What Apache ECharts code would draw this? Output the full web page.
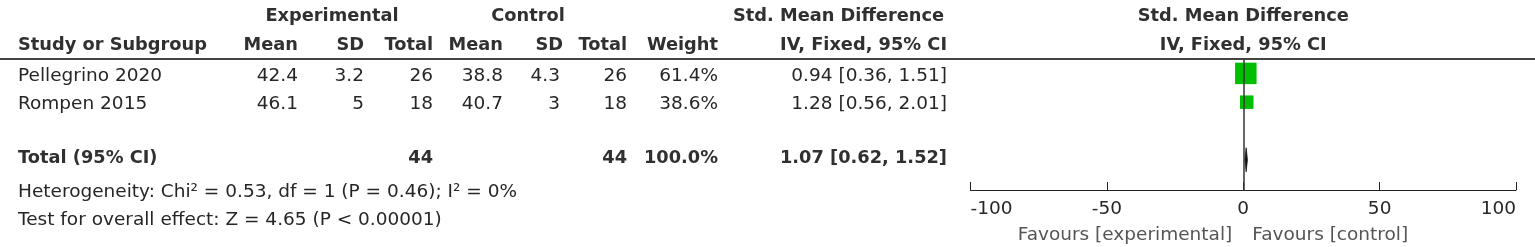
<!DOCTYPE html>
<html><head><meta charset="utf-8">
<script src="https://cdn.jsdelivr.net/npm/echarts@6/dist/echarts.min.js"></script>
<style>html,body{margin:0;padding:0;background:#fff}#c{width:1535px;height:247px}</style>
</head><body><div id="c"></div>
<script>
// ---- data ----
const studies = ['Pellegrino 2020', 'Rompen 2015'];
const expMean = [42.4, 46.1];
const expSD = [3.2, 5];
const expTotal = [26, 18];
const ctlMean = [38.8, 40.7];
const ctlSD = [4.3, 3];
const ctlTotal = [26, 18];
const weights = [61.4, 38.6];
const smd = [0.94, 1.28];
const ciLow = [0.36, 0.56];
const ciHigh = [1.51, 2.01];
const totalLabel = 'Total (95% CI)';
const totalCounts = [44, 44];
const totalWeight = [100.0];
const totalEffect = [1.07, 0.62, 1.52];
const footerLines = ['Heterogeneity: Chi\u00B2 = 0.53, df = 1 (P = 0.46); I\u00B2 = 0%', 'Test for overall effect: Z = 4.65 (P < 0.00001)'];
const xTicks = [-100, -50, 0, 50, 100];
const favours = ['Favours [experimental]', 'Favours [control]'];
const groupHeaders = ['Experimental', 'Control', 'Std. Mean Difference'];
const colHeaders = ['Study or Subgroup', 'Mean', 'SD', 'Total', 'Mean', 'SD', 'Total', 'Weight', 'IV, Fixed, 95% CI'];
const plotHeaders = ['Std. Mean Difference', 'IV, Fixed, 95% CI'];
const rowIndex = [0, 1];
const totalRow = 3;

// ---- style / layout ----
const FF = '"DejaVu Sans", sans-serif';
const REG = '18.5px ' + FF;
const BOLD = 'bold 17.8px ' + FF;
const TXT = '#262626';
const HDR = '#303030';
const colX = [18, 298, 364, 433, 503, 560, 627, 718, 947];
const hdrX = [18, 298, 364, 433, 503, 563, 627, 718, 947];

const chart = echarts.init(document.getElementById('c'), null, {renderer: 'canvas'});
const fmtCI = (e, l, h) => e.toFixed(2) + ' [' + l.toFixed(2) + ', ' + h.toFixed(2) + ']';

const option = {
  animation: false,
  grid: {left: 970.5, top: 59, width: 545.5, height: 131},
  xAxis: {
    type: 'value', min: xTicks[0], max: xTicks[xTicks.length - 1], interval: xTicks[1] - xTicks[0],
    splitLine: {show: false},
    axisLine: {onZero: false, lineStyle: {color: '#222', width: 1}},
    axisTick: {inside: true, length: 8, lineStyle: {color: '#222', width: 1}},
    axisLabel: {fontFamily: FF, fontSize: 18.5, color: TXT, margin: 10, showMinLabel: true, showMaxLabel: true,
      alignMinLabel: 'left', alignMaxLabel: 'right'}
  },
  yAxis: {type: 'value', inverse: true, min: -0.5, max: 4.05, show: false},
  series: [
    {
      type: 'line', data: [], z: 1, silent: true,
      markLine: {silent: true, symbol: 'none', label: {show: false},
        lineStyle: {color: '#333', width: 1.5, type: 'solid'}, data: [{xAxis: 0}]}
    },
    {
      type: 'custom', z: 2, silent: true,
      data: rowIndex.map(i => [smd[i], i, ciLow[i], ciHigh[i]]),
      encode: {x: [0, 2, 3], y: 1},
      renderItem: function (params, api) {
        const y = api.value(1);
        const a = api.coord([api.value(2), y]);
        const b = api.coord([api.value(3), y]);
        return {type: 'line', shape: {x1: a[0], y1: a[1], x2: b[0], y2: b[1]}, style: {stroke: '#222', lineWidth: 1}};
      }
    },
    {
      type: 'scatter', z: 3, silent: true, symbol: 'rect',
      data: rowIndex.map(i => [smd[i], i, weights[i]]),
      symbolSize: v => v[2] * 0.35,
      itemStyle: {color: '#00bf00', opacity: 1}
    },
    {
      type: 'custom', z: 4, silent: true,
      data: [[totalEffect[0], totalRow, totalEffect[1], totalEffect[2]]],
      encode: {x: [0, 2, 3], y: 1},
      renderItem: function (params, api) {
        const y = api.value(1);
        const c = api.coord([api.value(0), y]);
        const l = api.coord([api.value(2), y]);
        const r = api.coord([api.value(3), y]);
        return {type: 'polygon', shape: {points: [[l[0], c[1]], [c[0], c[1] - 12], [r[0], c[1]], [c[0], c[1] + 12]]},
          style: {fill: '#111', stroke: '#111', lineWidth: 0.8}};
      }
    }
  ]
};
chart.setOption(option);

// ---- table text, positioned through the plot's scales ----
const yOf = v => chart.convertToPixel({gridIndex: 0}, [0, v])[1];
const xZero = chart.convertToPixel({gridIndex: 0}, [0, 0])[0];
const g = [];
function t(str, x, y, font, fill, align) {
  g.push({type: 'text', x: x, y: y, silent: true,
    style: {text: String(str), font: font, fill: fill, align: align, textAlign: align,
      verticalAlign: 'middle', textVerticalAlign: 'middle'}});
}
// header lines
const h1 = 16, h2 = 45;
t(groupHeaders[0], 332, h1, BOLD, HDR, 'center');
t(groupHeaders[1], 528, h1, BOLD, HDR, 'center');
t(groupHeaders[2], 944, h1, BOLD, HDR, 'right');
t(plotHeaders[0], xZero, h1, BOLD, HDR, 'center');
colHeaders.forEach((s, k) => t(s, hdrX[k], h2, BOLD, HDR, k === 0 ? 'left' : 'right'));
t(plotHeaders[1], xZero, h2, BOLD, HDR, 'center');
g.push({type: 'line', silent: true, shape: {x1: 0, y1: 59, x2: 1535, y2: 59}, style: {stroke: '#444', lineWidth: 2}});
// study rows
rowIndex.forEach(i => {
  const y = yOf(i) + 2.5;
  const cells = [studies[i], expMean[i], expSD[i], expTotal[i], ctlMean[i], ctlSD[i], ctlTotal[i],
    weights[i].toFixed(1) + '%', fmtCI(smd[i], ciLow[i], ciHigh[i])];
  cells.forEach((s, k) => t(s, colX[k], y, REG, TXT, k === 0 ? 'left' : 'right'));
});
// total row
const yt = yOf(totalRow) - 1.5;
t(totalLabel, colX[0], yt, BOLD, HDR, 'left');
t(totalCounts[0], colX[3], yt, BOLD, HDR, 'right');
t(totalCounts[1], colX[6], yt, BOLD, HDR, 'right');
t(totalWeight[0].toFixed(1) + '%', colX[7], yt, BOLD, HDR, 'right');
t(fmtCI(totalEffect[0], totalEffect[1], totalEffect[2]), colX[8], yt, BOLD, HDR, 'right');
// footer
t(footerLines[0], 18, 192, REG, TXT, 'left');
t(footerLines[1], 18, 220, REG, TXT, 'left');
t(favours[0], xZero - 11, 235, REG, '#555', 'right');
t(favours[1], xZero + 9, 235, REG, '#555', 'left');
chart.setOption({graphic: {elements: g}});
</script>
</body></html>
